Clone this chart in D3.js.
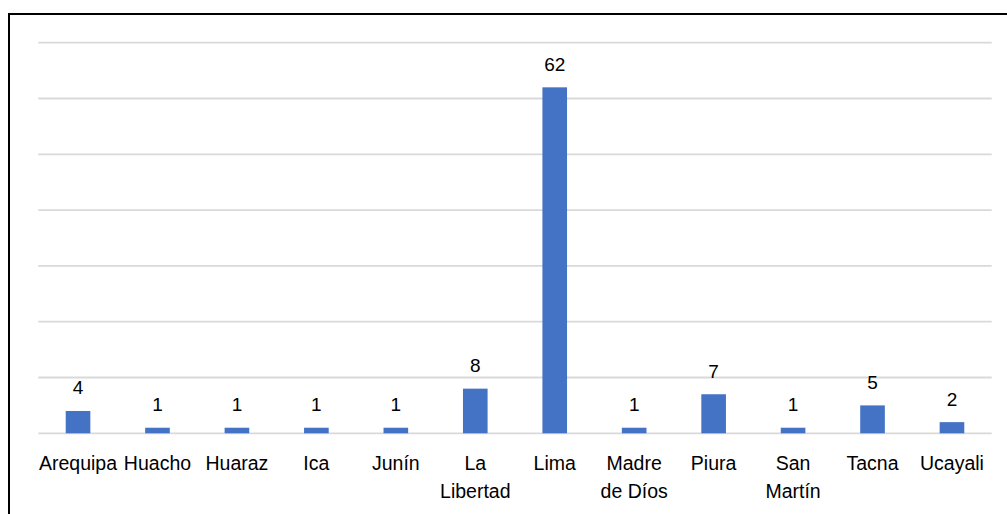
<!DOCTYPE html>
<html>
<head>
<meta charset="utf-8">
<script src="https://cdn.jsdelivr.net/npm/d3@7"></script>
<style>
  html, body { margin: 0; padding: 0; background: #fff; }
  svg { display: block; }
  text { font-family: "Liberation Sans", Arial, sans-serif; fill: #000; }
</style>
</head>
<body>
<svg id="chart" width="1007" height="514"></svg>
<script>
// Number of cases by region
const categories = ["Arequipa", "Huacho", "Huaraz", "Ica", "Junín", "La Libertad",
                    "Lima", "Madre de Díos", "Piura", "San Martín", "Tacna", "Ucayali"];
const values = [4, 1, 1, 1, 1, 8, 62, 1, 7, 1, 5, 2];
// How each category label breaks onto lines
const labelLines = [["Arequipa"], ["Huacho"], ["Huaraz"], ["Ica"], ["Junín"], ["La", "Libertad"],
                    ["Lima"], ["Madre", "de Díos"], ["Piura"], ["San", "Martín"], ["Tacna"], ["Ucayali"]];
const gridTicks = [0, 10, 20, 30, 40, 50, 60, 70];

const svg = d3.select("#chart");
const plotLeft = 38.3, plotRight = 991.7, plotTop = 42.7, plotBottom = 433.3;

// outer frame
svg.append("rect")
  .attr("x", 9).attr("y", 14)
  .attr("width", 1100).attr("height", 600)
  .attr("fill", "none").attr("stroke", "#000").attr("stroke-width", 2);

const x = d3.scaleBand()
  .domain(categories)
  .range([plotLeft, plotRight])
  .paddingInner(0.69)
  .paddingOuter(0.345);

const y = d3.scaleLinear().domain([0, 70]).range([plotBottom, plotTop]);

// horizontal gridlines
svg.append("g").selectAll("line")
  .data(gridTicks)
  .join("line")
  .attr("x1", plotLeft).attr("x2", plotRight)
  .attr("y1", d => y(d)).attr("y2", d => y(d))
  .attr("stroke", "#d9d9d9").attr("stroke-width", 1.8);

// bars
svg.append("g").selectAll("rect")
  .data(values)
  .join("rect")
  .attr("x", (d, i) => x(categories[i]))
  .attr("width", x.bandwidth())
  .attr("y", d => y(d))
  .attr("height", d => y(0) - y(d))
  .attr("fill", "#4472c4");

// value labels
svg.append("g").selectAll("text")
  .data(values)
  .join("text")
  .attr("x", (d, i) => x(categories[i]) + x.bandwidth() / 2)
  .attr("y", d => y(d) - 16.5)
  .attr("text-anchor", "middle")
  .style("font-size", "19px")
  .text(d => d);

// category labels
const catG = svg.append("g").selectAll("text")
  .data(categories)
  .join("text")
  .attr("x", d => x(d) + x.bandwidth() / 2)
  .attr("y", 469.5)
  .attr("text-anchor", "middle")
  .style("font-size", "19.5px");

catG.each(function(d, i) {
  const t = d3.select(this);
  labelLines[i].forEach((line, j) => {
    t.append("tspan")
      .attr("x", x(d) + x.bandwidth() / 2)
      .attr("dy", j === 0 ? 0 : 28)
      .text(line);
  });
});
</script>
</body>
</html>
